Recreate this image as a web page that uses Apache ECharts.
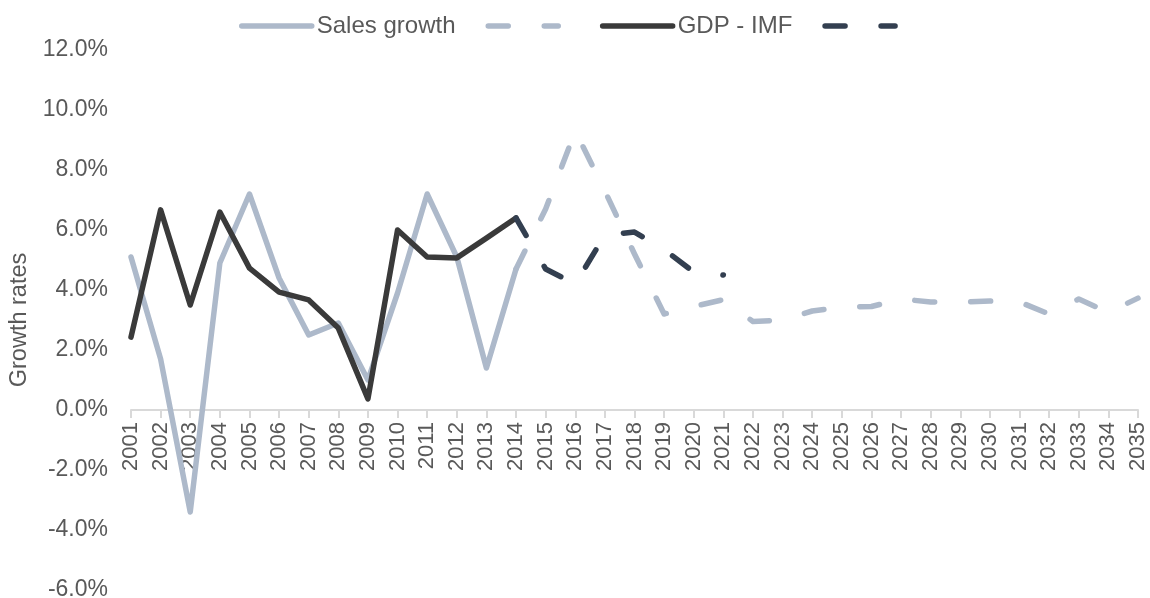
<!DOCTYPE html>
<html>
<head>
<meta charset="utf-8">
<script src="https://cdn.jsdelivr.net/npm/echarts@6/dist/echarts.min.js"></script>
<style>
  html, body { margin: 0; padding: 0; background: #ffffff; }
  #chart { width: 1150px; height: 598px; }
</style>
</head>
<body>
<div id="chart"></div>
<script>
// Years on the horizontal axis
const years = ['2001','2002','2003','2004','2005','2006','2007','2008','2009','2010',
  '2011','2012','2013','2014','2015','2016','2017','2018','2019','2020',
  '2021','2022','2023','2024','2025','2026','2027','2028','2029','2030',
  '2031','2032','2033','2034','2035'];

// Sales growth, % (historical 2001-2014)
const salesHistory = [5.1, 1.7, -3.4, 4.9, 7.2, 4.4, 2.5, 2.9, 1.0, 3.9, 7.2, 5.1, 1.4, 4.7];
// Sales growth, % (projection 2014-2035)
const salesProjection = [4.7, 6.7, 9.3, 7.3, 5.2, 3.2, 3.45, 3.68, 2.95, 3.0, 3.3,
  3.43, 3.45, 3.7, 3.6, 3.6, 3.63, 3.6, 3.2, 3.7, 3.25, 3.73];

// GDP growth (IMF), % (historical 2001-2014)
const gdpHistory = [2.43, 6.67, 3.5, 6.6, 4.73, 3.93, 3.67, 2.73, 0.37, 6.0, 5.1, 5.07, 5.73, 6.4];
// GDP growth (IMF), % (projection 2014-2021)
const gdpProjection = [6.4, 4.7, 4.2, 5.83, 5.93, 5.35, 4.6, 4.5];

// Y axis range (percent)
const yMin = -6, yMax = 12, yStep = 2;

const projStart = years.indexOf('2014');

function padHistory(arr) {
  const out = arr.slice();
  while (out.length < years.length) out.push(null);
  return out;
}
function padProjection(arr) {
  const out = new Array(projStart).fill(null).concat(arr);
  while (out.length < years.length) out.push(null);
  return out;
}

const W = 1150, H = 598;
const grid = { left: 131, right: 12, top: 50, bottom: 8 };
// the category axis (line, ticks and year labels) sits on the 0% line
const plotHeight = H - grid.top - grid.bottom;
const zeroOffset = -plotHeight * (0 - yMin) / (yMax - yMin);

const textColor = '#595959';
const salesColor = '#ADB9CA';
const gdpColor = '#3A3A3A';
const gdpProjColor = '#333F50';
const fontFamily = '"Liberation Sans", Arial, sans-serif';
const lineW = 5.5;

const dashPattern = [20, 36];

const chart = echarts.init(document.getElementById('chart'), null, { renderer: 'canvas' });
chart.setOption({
  animation: false,
  backgroundColor: '#ffffff',
  textStyle: { fontFamily: fontFamily },
  legend: {
    left: 234,
    top: 9,
    itemWidth: 70,
    itemHeight: 14,
    itemGap: 30,
    itemStyle: { opacity: 0 },
    textStyle: { fontSize: 24, color: textColor, fontFamily: fontFamily },
    data: [
      { name: 'Sales growth', lineStyle: { width: lineW, color: salesColor, cap: 'round', type: 'solid' } },
      { name: ' ', lineStyle: { width: lineW, color: salesColor, cap: 'round', type: dashPattern } },
      { name: 'GDP - IMF', lineStyle: { width: lineW, color: gdpColor, cap: 'round', type: 'solid' } },
      { name: '  ', lineStyle: { width: lineW, color: gdpProjColor, cap: 'round', type: dashPattern } }
    ]
  },
  grid: Object.assign({ containLabel: false, outerBoundsMode: 'none' }, grid),
  xAxis: {
    type: 'category',
    data: years,
    boundaryGap: false,
    offset: zeroOffset,
    axisLine: { onZero: false, lineStyle: { color: '#D9D9D9', width: 2 } },
    axisTick: { show: true, length: 8, lineStyle: { color: '#D9D9D9', width: 2 } },
    axisLabel: {
      rotate: 90,
      margin: 12,
      fontSize: 22,
      color: textColor,
      fontFamily: fontFamily,
      interval: 0
    },
    splitLine: { show: false }
  },
  yAxis: {
    type: 'value',
    min: yMin,
    max: yMax,
    interval: yStep,
    name: 'Growth rates',
    nameLocation: 'middle',
    nameRotate: 90,
    nameGap: 97,
    nameTextStyle: { fontSize: 23.5, color: textColor, fontFamily: fontFamily },
    axisLine: { show: false },
    axisTick: { show: false },
    splitLine: { show: false },
    axisLabel: {
      margin: 23,
      fontSize: 23,
      color: textColor,
      fontFamily: fontFamily,
      formatter: v => v.toFixed(1) + '%'
    }
  },
  series: [
    {
      name: 'Sales growth',
      type: 'line',
      data: padHistory(salesHistory),
      symbol: 'none',
      color: salesColor,
      lineStyle: { color: salesColor, width: lineW, cap: 'round', join: 'round' },
      z: 2
    },
    {
      name: ' ',
      type: 'line',
      data: padProjection(salesProjection),
      symbol: 'none',
      color: salesColor,
      lineStyle: { color: salesColor, width: lineW, cap: 'round', join: 'round', type: dashPattern },
      z: 3
    },
    {
      name: 'GDP - IMF',
      type: 'line',
      data: padHistory(gdpHistory),
      symbol: 'none',
      color: gdpColor,
      lineStyle: { color: gdpColor, width: lineW, cap: 'round', join: 'round' },
      z: 4
    },
    {
      name: '  ',
      type: 'line',
      data: padProjection(gdpProjection),
      symbol: 'none',
      color: gdpProjColor,
      lineStyle: { color: gdpProjColor, width: lineW, cap: 'round', join: 'round', type: dashPattern },
      z: 5
    }
  ]
});
</script>
</body>
</html>
